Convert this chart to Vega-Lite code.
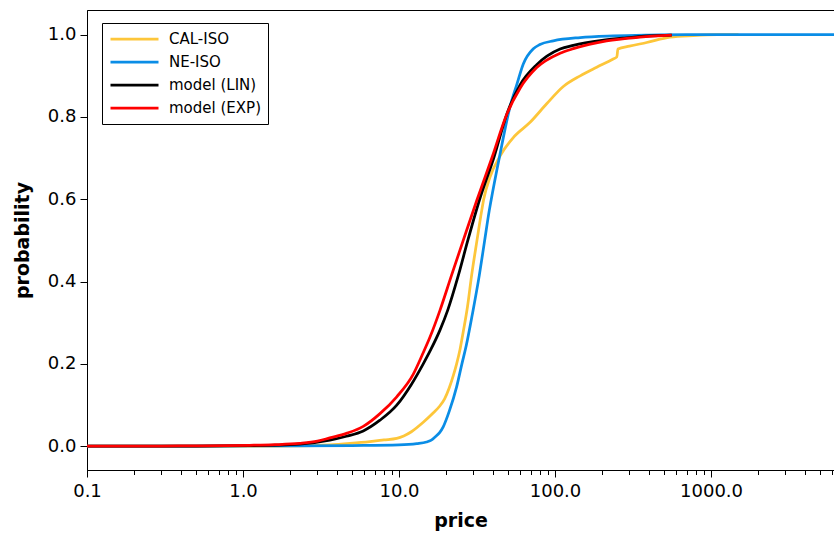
{
  "$schema": "https://vega.github.io/schema/vega-lite/v6.json",
  "width": 747,
  "height": 460,
  "autosize": "none",
  "padding": {"left": 87, "top": 10, "right": 0, "bottom": 66},
  "background": "white",
  "config": {
    "view": {"stroke": "black", "strokeWidth": 1},
    "axis": {
      "domainColor": "black",
      "tickColor": "black",
      "labelColor": "black",
      "titleColor": "black",
      "labelFont": "DejaVu Sans",
      "titleFont": "DejaVu Sans",
      "labelFontSize": 18,
      "titleFontSize": 19,
      "titleFontWeight": "bold",
      "grid": false
    }
  },
  "data": {
    "values": [
      {"series": "CAL-ISO", "price": 0.1, "prob": 0},
      {"series": "CAL-ISO", "price": 1.0, "prob": 0},
      {"series": "CAL-ISO", "price": 2.3, "prob": 0.0007},
      {"series": "CAL-ISO", "price": 3.6, "prob": 0.003},
      {"series": "CAL-ISO", "price": 4.85, "prob": 0.0066},
      {"series": "CAL-ISO", "price": 6.5, "prob": 0.011},
      {"series": "CAL-ISO", "price": 8.0, "prob": 0.015},
      {"series": "CAL-ISO", "price": 9.67, "prob": 0.0187},
      {"series": "CAL-ISO", "price": 12, "prob": 0.035},
      {"series": "CAL-ISO", "price": 14.3, "prob": 0.058},
      {"series": "CAL-ISO", "price": 16.6, "prob": 0.081},
      {"series": "CAL-ISO", "price": 18.2, "prob": 0.097},
      {"series": "CAL-ISO", "price": 19.6, "prob": 0.115},
      {"series": "CAL-ISO", "price": 21.0, "prob": 0.142},
      {"series": "CAL-ISO", "price": 22.3, "prob": 0.172},
      {"series": "CAL-ISO", "price": 23.4, "prob": 0.2},
      {"series": "CAL-ISO", "price": 24.6, "prob": 0.235},
      {"series": "CAL-ISO", "price": 25.8, "prob": 0.278},
      {"series": "CAL-ISO", "price": 27.5, "prob": 0.34},
      {"series": "CAL-ISO", "price": 29.2, "prob": 0.415},
      {"series": "CAL-ISO", "price": 31.6, "prob": 0.5},
      {"series": "CAL-ISO", "price": 33.9, "prob": 0.573},
      {"series": "CAL-ISO", "price": 34.9, "prob": 0.6},
      {"series": "CAL-ISO", "price": 38.3, "prob": 0.654},
      {"series": "CAL-ISO", "price": 44.4, "prob": 0.705},
      {"series": "CAL-ISO", "price": 54, "prob": 0.75},
      {"series": "CAL-ISO", "price": 69.2, "prob": 0.787},
      {"series": "CAL-ISO", "price": 88.4, "prob": 0.832},
      {"series": "CAL-ISO", "price": 113, "prob": 0.874},
      {"series": "CAL-ISO", "price": 145, "prob": 0.9},
      {"series": "CAL-ISO", "price": 185, "prob": 0.921},
      {"series": "CAL-ISO", "price": 236, "prob": 0.941},
      {"series": "CAL-ISO", "price": 249, "prob": 0.946},
      {"series": "CAL-ISO", "price": 253, "prob": 0.965},
      {"series": "CAL-ISO", "price": 300, "prob": 0.972},
      {"series": "CAL-ISO", "price": 387, "prob": 0.981},
      {"series": "CAL-ISO", "price": 546, "prob": 0.994},
      {"series": "CAL-ISO", "price": 770, "prob": 0.998},
      {"series": "CAL-ISO", "price": 1100, "prob": 1.0},
      {"series": "CAL-ISO", "price": 1500, "prob": 1.0},

      {"series": "NE-ISO", "price": 0.1, "prob": 0},
      {"series": "NE-ISO", "price": 2, "prob": 0.0005},
      {"series": "NE-ISO", "price": 5, "prob": 0.0015},
      {"series": "NE-ISO", "price": 10, "prob": 0.003},
      {"series": "NE-ISO", "price": 13, "prob": 0.006},
      {"series": "NE-ISO", "price": 15, "prob": 0.01},
      {"series": "NE-ISO", "price": 16, "prob": 0.014},
      {"series": "NE-ISO", "price": 17, "prob": 0.022},
      {"series": "NE-ISO", "price": 18.2, "prob": 0.033},
      {"series": "NE-ISO", "price": 19.2, "prob": 0.047},
      {"series": "NE-ISO", "price": 21, "prob": 0.085},
      {"series": "NE-ISO", "price": 23.4, "prob": 0.144},
      {"series": "NE-ISO", "price": 25.3, "prob": 0.2},
      {"series": "NE-ISO", "price": 27, "prob": 0.245},
      {"series": "NE-ISO", "price": 29.5, "prob": 0.32},
      {"series": "NE-ISO", "price": 32.7, "prob": 0.415},
      {"series": "NE-ISO", "price": 35.4, "prob": 0.5},
      {"series": "NE-ISO", "price": 37.9, "prob": 0.573},
      {"series": "NE-ISO", "price": 38.9, "prob": 0.597},
      {"series": "NE-ISO", "price": 44.0, "prob": 0.702},
      {"series": "NE-ISO", "price": 51.4, "prob": 0.824},
      {"series": "NE-ISO", "price": 56.8, "prob": 0.878},
      {"series": "NE-ISO", "price": 62.6, "prob": 0.929},
      {"series": "NE-ISO", "price": 72.6, "prob": 0.966},
      {"series": "NE-ISO", "price": 80, "prob": 0.976},
      {"series": "NE-ISO", "price": 97.5, "prob": 0.985},
      {"series": "NE-ISO", "price": 145, "prob": 0.993},
      {"series": "NE-ISO", "price": 236, "prob": 0.997},
      {"series": "NE-ISO", "price": 400, "prob": 0.999},
      {"series": "NE-ISO", "price": 700, "prob": 1.0},
      {"series": "NE-ISO", "price": 6140, "prob": 1.0},

      {"series": "model (LIN)", "price": 0.1, "prob": 0},
      {"series": "model (LIN)", "price": 0.5, "prob": 0.0003},
      {"series": "model (LIN)", "price": 1.1, "prob": 0.0012},
      {"series": "model (LIN)", "price": 2.3, "prob": 0.005},
      {"series": "model (LIN)", "price": 3.6, "prob": 0.0146},
      {"series": "model (LIN)", "price": 4.6, "prob": 0.024},
      {"series": "model (LIN)", "price": 5.9, "prob": 0.037},
      {"series": "model (LIN)", "price": 7.55, "prob": 0.063},
      {"series": "model (LIN)", "price": 9.67, "prob": 0.0995},
      {"series": "model (LIN)", "price": 12, "prob": 0.15},
      {"series": "model (LIN)", "price": 14.3, "prob": 0.2},
      {"series": "model (LIN)", "price": 16, "prob": 0.235},
      {"series": "model (LIN)", "price": 18.3, "prob": 0.282},
      {"series": "model (LIN)", "price": 20.5, "prob": 0.33},
      {"series": "model (LIN)", "price": 24, "prob": 0.415},
      {"series": "model (LIN)", "price": 27.6, "prob": 0.5},
      {"series": "model (LIN)", "price": 32.7, "prob": 0.597},
      {"series": "model (LIN)", "price": 40.6, "prob": 0.702},
      {"series": "model (LIN)", "price": 49.4, "prob": 0.81},
      {"series": "model (LIN)", "price": 59.7, "prob": 0.878},
      {"series": "model (LIN)", "price": 76.3, "prob": 0.927},
      {"series": "model (LIN)", "price": 107.7, "prob": 0.965},
      {"series": "model (LIN)", "price": 131, "prob": 0.974},
      {"series": "model (LIN)", "price": 200, "prob": 0.986},
      {"series": "model (LIN)", "price": 272, "prob": 0.9915},
      {"series": "model (LIN)", "price": 400, "prob": 0.997},
      {"series": "model (LIN)", "price": 560, "prob": 0.999},

      {"series": "model (EXP)", "price": 0.1, "prob": 0},
      {"series": "model (EXP)", "price": 0.3, "prob": 0.0002},
      {"series": "model (EXP)", "price": 0.55, "prob": 0.0007},
      {"series": "model (EXP)", "price": 1.1, "prob": 0.002},
      {"series": "model (EXP)", "price": 1.6, "prob": 0.0035},
      {"series": "model (EXP)", "price": 2.3, "prob": 0.0066},
      {"series": "model (EXP)", "price": 3.0, "prob": 0.012},
      {"series": "model (EXP)", "price": 3.6, "prob": 0.02},
      {"series": "model (EXP)", "price": 4.6, "prob": 0.031},
      {"series": "model (EXP)", "price": 5.9, "prob": 0.048},
      {"series": "model (EXP)", "price": 7.55, "prob": 0.079},
      {"series": "model (EXP)", "price": 9.67, "prob": 0.12},
      {"series": "model (EXP)", "price": 12.35, "prob": 0.175},
      {"series": "model (EXP)", "price": 14.1, "prob": 0.222},
      {"series": "model (EXP)", "price": 15.8, "prob": 0.265},
      {"series": "model (EXP)", "price": 18.3, "prob": 0.33},
      {"series": "model (EXP)", "price": 21.7, "prob": 0.415},
      {"series": "model (EXP)", "price": 25.8, "prob": 0.5},
      {"series": "model (EXP)", "price": 31.5, "prob": 0.597},
      {"series": "model (EXP)", "price": 39.5, "prob": 0.702},
      {"series": "model (EXP)", "price": 49, "prob": 0.806},
      {"series": "model (EXP)", "price": 59.7, "prob": 0.87},
      {"series": "model (EXP)", "price": 76.3, "prob": 0.92},
      {"series": "model (EXP)", "price": 107.7, "prob": 0.955},
      {"series": "model (EXP)", "price": 131, "prob": 0.966},
      {"series": "model (EXP)", "price": 214, "prob": 0.985},
      {"series": "model (EXP)", "price": 350, "prob": 0.994},
      {"series": "model (EXP)", "price": 560, "prob": 0.999}
    ]
  },
  "mark": {"type": "line", "strokeWidth": 2.75, "interpolate": "monotone", "clip": true},
  "encoding": {
    "x": {
      "field": "price",
      "type": "quantitative",
      "title": "price",
      "scale": {"type": "log", "domain": [0.1, 6140], "nice": false},
      "axis": {
        "values": [0.1, 0.2, 0.3, 0.4, 0.5, 0.6, 0.7, 0.8, 0.9, 1, 2, 3, 4, 5, 6, 7, 8, 9, 10, 20, 30, 40, 50, 60, 70, 80, 90, 100, 200, 300, 400, 500, 600, 700, 800, 900, 1000, 2000, 3000, 4000, 5000, 6000],
        "labelExpr": "indexof([0.1, 1, 10, 100, 1000], datum.value) >= 0 ? format(datum.value, '.1f') : ''",
        "labelOverlap": false,
        "labelFlush": false,
        "tickSize": {"condition": {"test": "indexof([0.1, 1, 10, 100, 1000], datum.value) >= 0", "value": 7}, "value": 4.5},
        "labelPadding": 5,
        "titlePadding": 11
      }
    },
    "y": {
      "field": "prob",
      "type": "quantitative",
      "title": "probability",
      "scale": {"domain": [-0.058, 1.06], "nice": false, "zero": false},
      "axis": {
        "values": [0, 0.2, 0.4, 0.6, 0.8, 1.0],
        "format": ".1f",
        "tickSize": 7,
        "labelPadding": 4,
        "titlePadding": 15
      }
    },
    "color": {
      "field": "series",
      "type": "nominal",
      "scale": {
        "domain": ["CAL-ISO", "NE-ISO", "model (LIN)", "model (EXP)"],
        "range": ["#FDC63A", "#0A8DE6", "#000000", "#FF0000"]
      },
      "legend": {
        "title": null,
        "orient": "none",
        "legendX": 15,
        "legendY": 13,
        "symbolType": "stroke",
        "symbolSize": 2304,
        "symbolStrokeWidth": 2.75,
        "clipHeight": 18,
        "rowPadding": 5,
        "padding": 7,
        "strokeColor": "black",
        "fillColor": "white",
        "labelFont": "DejaVu Sans",
        "labelFontSize": 15,
        "labelColor": "black",
        "labelOffset": 9
      }
    }
  }
}
